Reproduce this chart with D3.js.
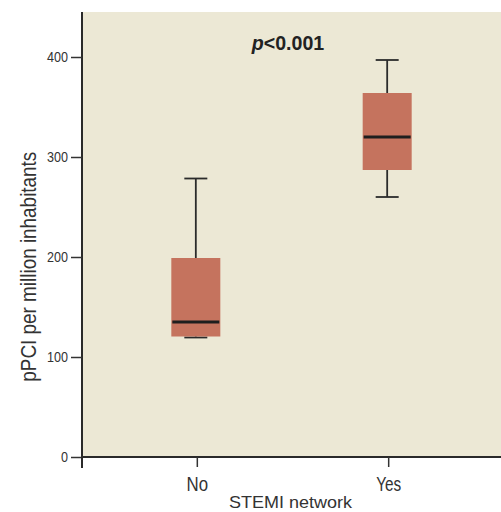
<!DOCTYPE html>
<html><head><meta charset="utf-8">
<script src="https://cdn.jsdelivr.net/npm/d3@7"></script>
<style>
html,body{margin:0;padding:0;background:#fff;}
text{font-family:"Liberation Sans",Arial,sans-serif;fill:#333;}
</style></head>
<body>
<svg id="chart" width="501" height="512"></svg>
<script>
const categories = ["No", "Yes"];
const whiskerLow = [119.5, 260];
const q1 = [120.5, 287];
const medians = [135, 320];
const q3 = [199, 364];
const whiskerHigh = [278.5, 397];
const yTicks = [0, 100, 200, 300, 400];
const xTitle = "STEMI network";
const yTitle = "pPCI per million inhabitants";

(function () {
const svg = d3.select("#chart");
const mLeft = 82, mRight = 503, mTop = 12, mBottom = 457;
const font = '"Liberation Sans",Arial,sans-serif';

const x = d3.scalePoint().domain(categories).range([mLeft, mRight]).padding(0.6);
const y = d3.scaleLinear().domain([0, 445]).range([mBottom, mTop]);

svg.append("rect").attr("x", mLeft).attr("y", mTop)
  .attr("width", 501 - mLeft).attr("height", mBottom - mTop).attr("fill", "#ece8d5");

const boxW = 49, capW = 23;
const g = svg.append("g");
categories.forEach((c, i) => {
  const cx = x(c) - 1;
  g.append("line").attr("x1", cx).attr("x2", cx)
    .attr("y1", y(whiskerHigh[i])).attr("y2", y(q3[i]))
    .attr("stroke", "#2b2b2b").attr("stroke-width", 1.8);
  g.append("line").attr("x1", cx).attr("x2", cx)
    .attr("y1", y(whiskerLow[i])).attr("y2", y(q1[i]))
    .attr("stroke", "#2b2b2b").attr("stroke-width", 1.8);
  [whiskerHigh[i], whiskerLow[i]].forEach(v => {
    g.append("line").attr("x1", cx - capW / 2).attr("x2", cx + capW / 2)
      .attr("y1", y(v)).attr("y2", y(v))
      .attr("stroke", "#2b2b2b").attr("stroke-width", 1.8);
  });
  g.append("rect").attr("x", cx - boxW / 2).attr("width", boxW)
    .attr("y", y(q3[i])).attr("height", y(q1[i]) - y(q3[i]))
    .attr("fill", "#c5735e");
  g.append("line").attr("x1", cx - boxW / 2 + 1).attr("x2", cx + boxW / 2 - 1)
    .attr("y1", y(medians[i])).attr("y2", y(medians[i]))
    .attr("stroke", "#1e1e1e").attr("stroke-width", 3);
});

const yAxis = d3.axisLeft(y).tickValues(yTicks).tickSize(11).tickPadding(3);
const ya = svg.append("g").attr("transform", `translate(${mLeft},0)`).call(yAxis);
ya.select(".domain").attr("d", `M0,${mTop}V${mBottom}`).attr("stroke", "#2a2a2a").attr("stroke-width", 2);
ya.selectAll(".tick line").attr("stroke", "#333").attr("stroke-width", 1.5);
ya.selectAll(".tick text").attr("font-size", 15).attr("fill", "#333")
  .style("font-family", font)
  .attr("textLength", d => String(d).length * 7)
  .attr("lengthAdjust", "spacingAndGlyphs");

const xLabelWidths = { No: 21.5, Yes: 25 };
const xAxis = d3.axisBottom(x).tickSize(10).tickPadding(8);
const xa = svg.append("g").attr("transform", `translate(0,${mBottom})`).call(xAxis);
xa.select(".domain").attr("d", `M${mLeft},11V0H501`).attr("stroke", "#2a2a2a").attr("stroke-width", 2);
xa.selectAll(".tick line").attr("stroke", "#333").attr("stroke-width", 1.5);
xa.selectAll(".tick text").attr("font-size", 19.5).attr("fill", "#333")
  .style("font-family", font)
  .attr("dy", null).attr("y", 34)
  .attr("textLength", d => xLabelWidths[d])
  .attr("lengthAdjust", "spacingAndGlyphs");

svg.append("text").attr("x", 290.5).attr("y", 508)
  .attr("text-anchor", "middle").attr("font-size", 17)
  .attr("textLength", 123).attr("lengthAdjust", "spacingAndGlyphs").text(xTitle);

svg.append("text").attr("transform", `translate(35.5,266.7) rotate(-90)`)
  .attr("text-anchor", "middle").attr("font-size", 22)
  .attr("textLength", 230).attr("lengthAdjust", "spacingAndGlyphs").text(yTitle);

const pt = svg.append("text").attr("x", 288).attr("y", 50)
  .attr("text-anchor", "middle").attr("font-size", 21).attr("font-weight", "bold")
  .attr("textLength", 72.5).attr("lengthAdjust", "spacingAndGlyphs")
  .style("fill", "#222");
pt.append("tspan").attr("font-style", "italic").text("p");
pt.append("tspan").text("<0.001");
})();
</script>
</body></html>
